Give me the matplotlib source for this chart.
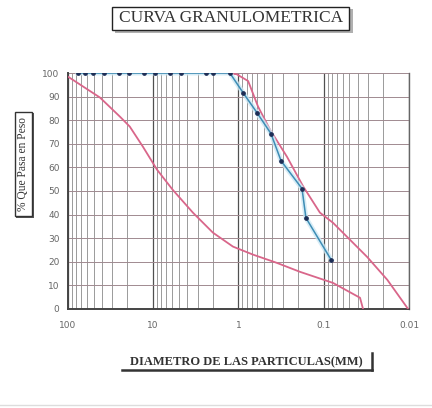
import numpy as np
import matplotlib.pyplot as plt
from matplotlib.patches import Rectangle
from matplotlib.ticker import FixedLocator, LogLocator, NullFormatter

# muestra: tamices y porcentaje que pasa
diam = [76.2, 63.5, 50.8, 38.1, 25.4, 19.05, 12.7, 9.525, 6.35, 4.76, 2.38, 2.0, 1.26,
        0.885, 0.607, 0.416, 0.317, 0.18, 0.162, 0.082]
pasa = [100, 100, 100, 100, 100, 100, 100, 100, 100, 100, 100, 100, 100,
        91.7, 83.2, 74.3, 62.8, 51.0, 38.6, 20.8]

# limite grueso (huso)
lim1_d = [100, 89.8, 42, 24.5, 18.8, 13.2, 9.0, 5.9, 3.42, 1.99, 1.16, 0.676, 0.355, 0.19, 0.078, 0.0376, 0.0347]
lim1_p = [98.5, 97.4, 89.6, 81.5, 77.3, 68.8, 59, 50.5, 40.8, 32.3, 26.4, 23, 19.5, 15.7, 11, 4.7, 0]

# limite fino (huso)
lim2_d = [2.3, 1.5, 1.05, 0.77, 0.59, 0.427, 0.27, 0.175, 0.111, 0.078, 0.031, 0.018, 0.0103]
lim2_p = [100, 100, 99.5, 96.6, 85.8, 76, 64.5, 52, 40.8, 36.5, 22, 12.3, 0]

yticks = list(range(0, 101, 10))
xticks = [100, 10, 1, 0.1, 0.01]
xlabels = ["100", "10", "1", "0.1", "0.01"]

pink = "#d9668a"

fig = plt.figure(figsize=(4.32, 4.08), dpi=100)
ax = fig.add_axes([0.157, 0.243, 0.79, 0.578])

ax.set_xscale("log")
ax.set_xlim(100, 0.01)
ax.set_ylim(0, 100)

# rejilla
ax.xaxis.set_major_locator(FixedLocator(xticks))
ax.xaxis.set_minor_locator(LogLocator(base=10, subs=np.arange(2, 10)))
ax.xaxis.set_minor_formatter(NullFormatter())
ax.set_xticks(xticks)
ax.set_xticklabels(xlabels)
ax.set_yticks(yticks)
ax.grid(True, which="major", axis="x", color="#505050", lw=0.9)
ax.grid(True, which="minor", axis="x", color="#8a8a8a", lw=0.6)
ax.grid(True, which="major", axis="y", color="#a08a90", lw=0.7)
ax.tick_params(which="both", length=0, labelsize=6.5, colors="#666666", pad=6)
ax.tick_params(axis="x", pad=9)

for s in ["left", "bottom"]:
    ax.spines[s].set_color("#444444")
    ax.spines[s].set_linewidth(1.4)
ax.spines["top"].set_visible(False)
ax.spines["right"].set_color("#666666")
ax.spines["right"].set_linewidth(1.0)

# curvas
ax.plot(lim1_d, lim1_p, color=pink, lw=1.3, zorder=3)
ax.plot(lim2_d, lim2_p, color=pink, lw=1.3, zorder=3)
ax.plot(diam, pasa, color="#cde8f4", lw=3.5, alpha=0.8, zorder=3)
ax.plot(diam, pasa, color="#3d8db5", lw=1.1, zorder=4)
ax.plot(diam, pasa, ls="none", marker="o", ms=2.4, color="#1d2d55", zorder=5)

# titulo en recuadro con sombra
fig.add_artist(Rectangle((0.266, 0.919), 0.55, 0.058, transform=fig.transFigure,
                         fc="#b0b0b0", ec="none"))
fig.add_artist(Rectangle((0.259, 0.926), 0.55, 0.058, transform=fig.transFigure,
                         fc="white", ec="#222222", lw=1.0))
fig.text(0.534, 0.955, "CURVA GRANULOMETRICA", ha="center", va="center",
         family="Liberation Serif", fontsize=12.5, color="#333333")

# eje x
fig.text(0.571, 0.113, "DIAMETRO DE LAS PARTICULAS(MM)", ha="center", va="center",
         family="Liberation Serif", fontsize=9, fontweight="bold", color="#333333")
fig.add_artist(plt.Line2D([0.282, 0.861], [0.093, 0.093], color="#333333", lw=1.8))
fig.add_artist(plt.Line2D([0.861, 0.861], [0.093, 0.135], color="#333333", lw=1.8))

# eje y
fig.add_artist(Rectangle((0.038, 0.466), 0.040, 0.256, transform=fig.transFigure,
                         fc="#555555", ec="none"))
fig.add_artist(Rectangle((0.034, 0.470), 0.040, 0.256, transform=fig.transFigure,
                         fc="white", ec="#333333", lw=1.0))
fig.text(0.054, 0.598, "% Que Pasa en Peso", ha="center", va="center", rotation=90,
         family="Liberation Serif", fontsize=8.3, color="#333333")

# linea de borde de pagina
fig.add_artist(plt.Line2D([0.0, 1.0], [0.008, 0.008], color="#dddddd", lw=1.0))

fig.savefig("out.png", dpi=100)
